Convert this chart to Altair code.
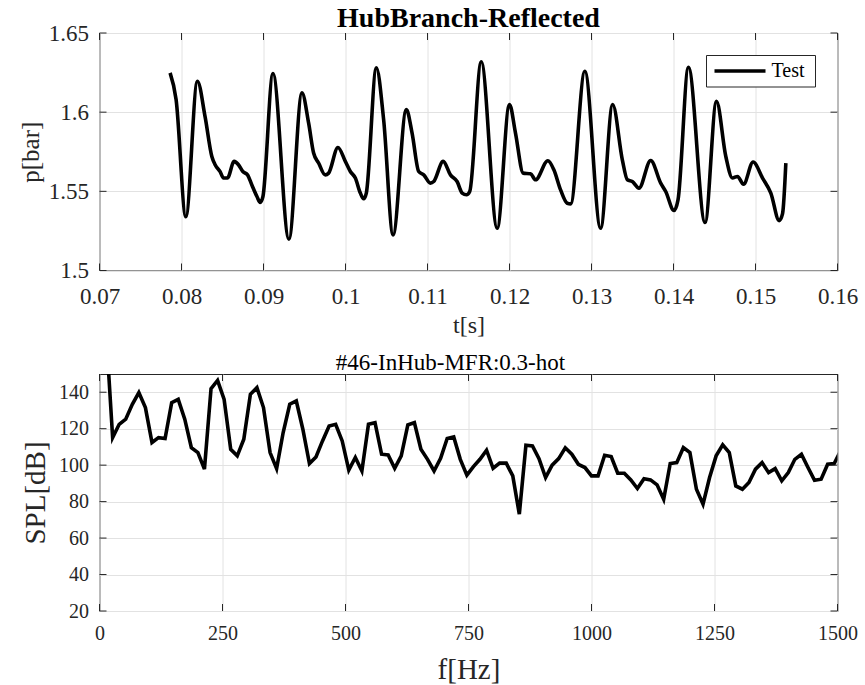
import altair as alt
import pandas as pd

# ---------------- data ----------------
t_s = [0.07861, 0.07934, 0.08053, 0.08194, 0.08288, 0.08370, 0.08410, 0.08471, 0.08512, 0.08560,
       0.08642, 0.08695, 0.08748, 0.08805, 0.08858, 0.08920, 0.08960, 0.08993, 0.09115, 0.09310,
       0.09469, 0.09550, 0.09611, 0.09672, 0.09753, 0.09794, 0.09908, 0.09998, 0.10059, 0.10120,
       0.10181, 0.10221, 0.10254, 0.10376, 0.10465, 0.10580, 0.10742, 0.10812, 0.10893, 0.10954,
       0.11035, 0.11076, 0.11191, 0.11280, 0.11361, 0.11423, 0.11475, 0.11515, 0.11655, 0.11850,
       0.12000, 0.12073, 0.12167, 0.12256, 0.12318, 0.12468, 0.12541, 0.12623, 0.12704, 0.12745,
       0.12919, 0.13111, 0.13258, 0.13376, 0.13437, 0.13498, 0.13579, 0.13722, 0.13844, 0.13905,
       0.14006, 0.14055, 0.14182, 0.14385, 0.14524, 0.14638, 0.14719, 0.14781, 0.14854, 0.14971,
       0.15086, 0.15187, 0.15289, 0.15330, 0.15370]
p_bar = [1.6248, 1.6080, 1.5340, 1.6195, 1.5970, 1.5720, 1.5668, 1.5625, 1.5584, 1.5584,
         1.5689, 1.5668, 1.5625, 1.5604, 1.5540, 1.5467, 1.5430, 1.5467, 1.6244, 1.5198,
         1.6122, 1.5932, 1.5742, 1.5679, 1.5604, 1.5615, 1.5777, 1.5689, 1.5625, 1.5584,
         1.5489, 1.5453, 1.5489, 1.6280, 1.5953, 1.5225, 1.6016, 1.5868, 1.5625, 1.5604,
         1.5552, 1.5562, 1.5689, 1.5604, 1.5562, 1.5489, 1.5478, 1.5499, 1.6318, 1.5267,
         1.6048, 1.5868, 1.5615, 1.5611, 1.5573, 1.5693, 1.5636, 1.5509, 1.5425, 1.5421,
         1.6258, 1.5267, 1.6048, 1.5699, 1.5573, 1.5562, 1.5520, 1.5695, 1.5552, 1.5499,
         1.5379, 1.5446, 1.6284, 1.5303, 1.6068, 1.5720, 1.5584, 1.5594, 1.5545, 1.5685,
         1.5584, 1.5489, 1.5315, 1.5359, 1.5678]

f_hz = [13.3, 26.7, 40.0, 53.3, 66.7, 80.0, 93.3, 106.7, 120.0, 133.3,
        146.7, 160.0, 173.3, 186.7, 200.0, 213.3, 226.7, 240.0, 253.3, 266.7,
        280.0, 293.3, 306.7, 320.0, 333.3, 346.7, 360.0, 373.3, 386.7, 400.0,
        413.3, 426.7, 440.0, 453.3, 466.7, 480.0, 493.3, 506.7, 520.0, 533.3,
        546.7, 560.0, 573.3, 586.7, 600.0, 613.3, 626.7, 640.0, 653.3, 666.7,
        680.0, 693.3, 706.7, 720.0, 733.3, 746.7, 760.0, 773.3, 786.7, 800.0,
        813.3, 826.7, 840.0, 853.3, 866.7, 880.0, 893.3, 906.7, 920.0, 933.3,
        946.7, 960.0, 973.3, 986.7, 1000.0, 1013.3, 1026.7, 1040.0, 1053.3, 1066.7,
        1080.0, 1093.3, 1106.7, 1120.0, 1133.3, 1146.7, 1160.0, 1173.3, 1186.7, 1200.0,
        1213.3, 1226.7, 1240.0, 1253.3, 1266.7, 1280.0, 1293.3, 1306.7, 1320.0, 1333.3,
        1346.7, 1360.0, 1373.3, 1386.7, 1400.0, 1413.3, 1426.7, 1440.0, 1453.3, 1466.7,
        1480.0, 1493.3, 1506.7]
spl_db = [174.0, 115.1, 122.4, 125.2, 133.4, 139.8, 131.6, 112.4, 115.1, 114.6,
          134.3, 136.1, 125.2, 109.6, 106.9, 97.8, 142.0, 146.5, 136.1, 108.7,
          105.1, 114.2, 138.9, 142.5, 131.6, 106.9, 98.1, 117.9, 133.4, 135.2,
          119.7, 100.9, 104.5, 113.3, 121.5, 122.4, 113.3, 97.3, 104.2, 96.8,
          122.4, 123.3, 106.0, 105.6, 98.3, 105.1, 122.1, 123.3, 108.7, 103.2,
          96.8, 103.8, 114.6, 115.5, 103.2, 94.5, 99.2, 103.2, 108.2, 98.3,
          101.1, 101.1, 94.1, 73.1, 110.9, 110.5, 103.6, 93.2, 100.0, 103.6,
          109.5, 106.0, 100.5, 98.7, 94.1, 94.1, 105.4, 104.7, 95.6, 95.6,
          91.9, 87.2, 92.6, 91.9, 89.2, 81.3, 100.9, 101.4, 109.6, 106.9,
          86.8, 78.6, 93.2, 105.1, 111.1, 106.9, 88.6, 86.8, 90.5, 97.8,
          101.4, 95.9, 98.1, 91.4, 95.9, 103.2, 106.0, 98.7, 91.7, 92.3,
          100.5, 100.9, 108.0]

series_name = ["Test"]
t_ticks = [0.07, 0.08, 0.09, 0.1, 0.11, 0.12, 0.13, 0.14, 0.15, 0.16]
p_ticks = [1.5, 1.55, 1.6, 1.65]
f_ticks = [0, 250, 500, 750, 1000, 1250, 1500]
spl_ticks = [20, 40, 60, 80, 100, 120, 140]

# ---------------- styling ----------------
W, H1, H2 = 738, 237.5, 237
FONT = "Liberation Serif"
FRAME = "#262626"
GRID = "#e2e2e2"
TL = 7  # inward tick length

time_df = pd.DataFrame({"t": t_s, "p": p_bar})
spec_df = pd.DataFrame({"f": f_hz, "spl": spl_db})

xs_t = alt.Scale(domain=[0.07, 0.16], nice=False, zero=False)
ys_p = alt.Scale(domain=[1.5, 1.65], nice=False, zero=False)
xs_f = alt.Scale(domain=[0, 1500], nice=False, zero=False)
ys_s = alt.Scale(domain=[20, 150], nice=False, zero=False)

common = dict(labelFlush=False, labelFont=FONT, titleFont=FONT,
              labelColor=FRAME, titleColor=FRAME, titleFontWeight="normal",
              grid=True, gridColor=GRID, gridWidth=1, domain=False, ticks=False)
ax_t = alt.Axis(values=t_ticks, format="~g", title="t[s]", labelFontSize=23,
                titleFontSize=24, labelPadding=15, titlePadding=5, **common)
ax_p = alt.Axis(values=p_ticks, format="~g", title="p[bar]", labelFontSize=23,
                titleFontSize=25, labelPadding=11, titlePadding=5, **common)
ax_f = alt.Axis(values=f_ticks, format="d", title="f[Hz]", labelFontSize=20,
                titleFontSize=29, labelPadding=12, titlePadding=12, **common)
ax_s = alt.Axis(values=spl_ticks, format="d", title="SPL[dB]", labelFontSize=20,
                titleFontSize=29, labelPadding=11, titlePadding=8, **common)


def inward_ticks(xvals, xfield, xscale, xaxis, yvals, yfield, yscale, yaxis, h):
    xdf = pd.DataFrame({xfield: xvals})
    ydf = pd.DataFrame({yfield: yvals})
    r = dict(color=FRAME, strokeWidth=1)
    return [
        alt.Chart(xdf).mark_rule(**r).encode(
            x=alt.X(f"{xfield}:Q", scale=xscale, axis=xaxis), y=alt.value(0), y2=alt.value(TL)),
        alt.Chart(xdf).mark_rule(**r).encode(
            x=alt.X(f"{xfield}:Q", scale=xscale, axis=xaxis), y=alt.value(h - TL), y2=alt.value(h)),
        alt.Chart(ydf).mark_rule(**r).encode(
            y=alt.Y(f"{yfield}:Q", scale=yscale, axis=yaxis), x=alt.value(0), x2=alt.value(TL)),
        alt.Chart(ydf).mark_rule(**r).encode(
            y=alt.Y(f"{yfield}:Q", scale=yscale, axis=yaxis), x=alt.value(W - TL), x2=alt.value(W)),
    ]


# ---------------- top panel ----------------
line_top = alt.Chart(time_df).mark_line(
    color="black", strokeWidth=3.6, interpolate="monotone", clip=True
).encode(
    x=alt.X("t:Q", scale=xs_t, axis=ax_t),
    y=alt.Y("p:Q", scale=ys_p, axis=ax_p),
)

legend_df = pd.DataFrame({"series": series_name})
leg_box = alt.Chart(legend_df).mark_rect(
    fill="white", stroke=FRAME, strokeWidth=1
).encode(x=alt.value(607), x2=alt.value(716), y=alt.value(22.5), y2=alt.value(54))
leg_line = alt.Chart(legend_df).mark_rule(color="black", strokeWidth=3.6).encode(
    x=alt.value(615), x2=alt.value(666), y=alt.value(38))
leg_text = alt.Chart(legend_df).mark_text(
    align="left", baseline="middle", font=FONT, fontSize=20, color="black"
).encode(text="series:N", x=alt.value(672), y=alt.value(37.5))

top = alt.layer(
    line_top, *inward_ticks(t_ticks, "t", xs_t, ax_t, p_ticks, "p", ys_p, ax_p, H1),
    leg_box, leg_line, leg_text
).properties(
    width=W, height=H1,
    title=alt.TitleParams("HubBranch-Reflected", font=FONT, fontSize=28,
                          fontWeight="bold", color="black", offset=-32.5,
                          baseline="alphabetic", anchor="middle"),
)

# ---------------- bottom panel ----------------
line_bot = alt.Chart(spec_df).mark_line(
    color="black", strokeWidth=3.6, clip=True
).encode(
    x=alt.X("f:Q", scale=xs_f, axis=ax_f),
    y=alt.Y("spl:Q", scale=ys_s, axis=ax_s),
)

bottom = alt.layer(
    line_bot, *inward_ticks(f_ticks, "f", xs_f, ax_f, spl_ticks, "spl", ys_s, ax_s, H2)
).properties(
    width=W, height=H2,
    title=alt.TitleParams("#46-InHub-MFR:0.3-hot", font=FONT, fontSize=23,
                          fontWeight="normal", color="black", offset=-19,
                          baseline="alphabetic", anchor="middle", dx=-18),
)

chart = alt.vconcat(
    top, bottom, spacing=103, bounds="flush",
    padding={"left": 17.5, "top": 4, "right": 0, "bottom": 0},
).configure(
    background="white"
).configure_view(
    stroke=FRAME, strokeWidth=1
)

chart.save("out.html", embed_options={"renderer": "svg", "actions": False})
